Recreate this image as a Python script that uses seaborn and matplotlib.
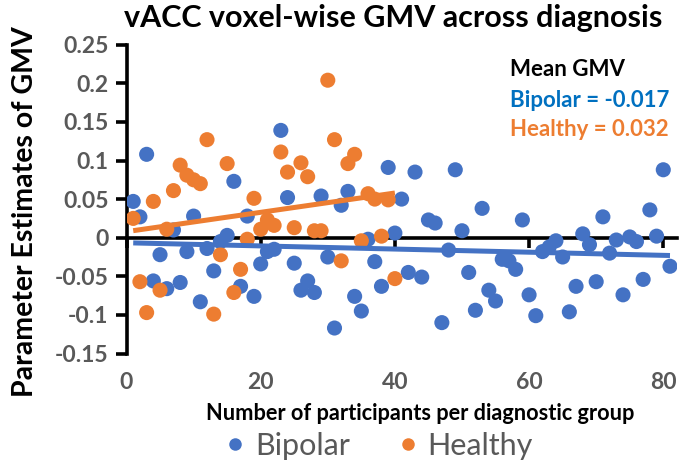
import matplotlib
matplotlib.use("Agg")
import matplotlib.pyplot as plt
from matplotlib.lines import Line2D
from matplotlib.ticker import FixedLocator, FuncFormatter
import pandas as pd
import seaborn as sns

# Voxel-wise GMV parameter estimates, one value per participant (in order)
bipolar_gmv = [
    0.047, 0.027, 0.108, -0.056, -0.022, -0.066, 0.010, -0.058, -0.018, 0.028,
    -0.083, -0.014, -0.043, -0.005, 0.003, 0.073, -0.063, 0.028, -0.076, -0.034,
    -0.018, -0.015, 0.139, 0.052, -0.033, -0.068, -0.056, -0.071, 0.054, -0.025,
    -0.117, 0.042, 0.060, -0.076, -0.095, -0.002, -0.031, -0.063, 0.091, 0.006,
    0.050, -0.045, 0.085, -0.051, 0.023, 0.019, -0.110, -0.016, 0.088, 0.009,
    -0.045, -0.094, 0.038, -0.068, -0.082, -0.028, -0.030, -0.041, 0.023, -0.074,
    -0.101, -0.018, -0.012, -0.004, -0.025, -0.096, -0.063, 0.005, -0.009, -0.057,
    0.027, -0.020, -0.003, -0.074, 0.001, -0.005, -0.054, 0.036, 0.002, 0.088,
    -0.037,
]
healthy_gmv = [
    0.025, -0.057, -0.097, 0.047, -0.068, 0.011, 0.061, 0.094, 0.081, 0.075,
    0.070, 0.127, -0.099, -0.022, 0.096, -0.071, -0.041, -0.002, 0.051, 0.011,
    0.023, 0.016, 0.111, 0.085, 0.013, 0.097, 0.079, 0.009, 0.009, 0.204,
    0.127, -0.030, 0.096, 0.108, -0.004, 0.057, 0.050, 0.002, 0.049, -0.053,
]
bipolar_n = list(range(1, len(bipolar_gmv) + 1))
healthy_n = list(range(1, len(healthy_gmv) + 1))

groups = ["Bipolar", "Healthy"]
group_colors = {"Bipolar": "#4472C4", "Healthy": "#ED7D31"}
mean_labels = ["Mean GMV", "Bipolar = -0.017", "Healthy = 0.032"]
mean_colors = ["#000000", "#0070C0", "#ED7D31"]

x_ticks = [0, 20, 40, 60, 80]
y_ticks = [-0.15, -0.1, -0.05, 0, 0.05, 0.1, 0.15, 0.2, 0.25]

title = "vACC voxel-wise GMV across diagnosis"
x_label = "Number of participants per diagnostic group"
y_label = "Parameter Estimates of GMV"

df = pd.concat([
    pd.DataFrame({"n": bipolar_n, "gmv": bipolar_gmv, "group": "Bipolar"}),
    pd.DataFrame({"n": healthy_n, "gmv": healthy_gmv, "group": "Healthy"}),
], ignore_index=True)

sns.set_theme(style="white")
plt.rcParams["font.family"] = ["Lato", "DejaVu Sans"]

W, H = 683, 467
fig = plt.figure(figsize=(W / 100, H / 100), dpi=100)
ax = fig.add_axes([126.5 / W, 1 - 353.5 / H, (676.7 - 126.5) / W, (353.5 - 44.7) / H])

sns.scatterplot(data=df, x="n", y="gmv", hue="group", hue_order=groups,
                palette=group_colors, s=118, edgecolor="none", linewidth=0,
                alpha=1, legend=False, ax=ax, zorder=3)
for g in groups:
    sub = df[df["group"] == g]
    sns.regplot(data=sub, x="n", y="gmv", scatter=False, ci=None, truncate=True,
                color=group_colors[g], line_kws={"lw": 3.6, "zorder": 4,
                                                 "solid_capstyle": "butt"}, ax=ax)

ax.set_xlim(0, 82)
ax.set_ylim(-0.15, 0.25)
ax.set_xlabel("")
ax.set_ylabel("")

# axes: left spine plus a horizontal axis line through zero
for side in ["top", "right"]:
    ax.spines[side].set_visible(False)
ax.spines["left"].set_linewidth(2.6)
ax.spines["left"].set_color("black")
ax.spines["bottom"].set_position(("data", 0))
ax.spines["bottom"].set_linewidth(2.6)
ax.spines["bottom"].set_color("black")
ax.spines["bottom"].set_zorder(2)

ax.yaxis.set_major_locator(FixedLocator(y_ticks))
ax.yaxis.set_major_formatter(FuncFormatter(lambda v, p: f"{round(v, 2):g}"))
ax.tick_params(axis="y", direction="out", length=8, width=2.6, color="black",
               labelsize=16.5, labelcolor="#595959", pad=5, left=True)
for lab in ax.get_yticklabels():
    lab.set_fontweight("bold")

ax.xaxis.set_major_locator(FixedLocator(x_ticks))
ax.tick_params(axis="x", direction="out", length=7, width=2.6, color="black",
               labelbottom=False, bottom=True)

sec = ax.secondary_xaxis("bottom")
sec.xaxis.set_major_locator(FixedLocator(x_ticks))
sec.spines["bottom"].set_visible(False)
sec.tick_params(axis="x", length=0, labelsize=16.5, labelcolor="#595959", pad=13)
for lab in sec.get_xticklabels():
    lab.set_fontweight("bold")

fig.text(393 / W, 1 - 27 / H, title, ha="center", va="baseline",
         fontsize=22, fontweight="bold", color="black")
fig.text(420 / W, 1 - 413 / H, x_label, ha="center", va="center",
         fontsize=15.7, fontweight="bold", color="black")
fig.text(25 / W, 1 - 212 / H, y_label, ha="center", va="center", rotation=90,
         fontsize=20.5, fontweight="bold", color="black")

for i, (txt, col) in enumerate(zip(mean_labels, mean_colors)):
    fig.text(510 / W, 1 - (70 + 30 * i) / H, txt, ha="left", va="center",
             fontsize=16, fontweight="bold", color=col)

handles = [Line2D([], [], ls="none", marker="o", markersize=9,
                  markerfacecolor=group_colors[g], markeredgewidth=0) for g in groups]
fig.legend(handles, groups, loc="center", bbox_to_anchor=(378 / W, 1 - 446 / H),
           ncol=2, frameon=False, fontsize=22, labelcolor="#595959",
           handletextpad=0.25, columnspacing=1.5, handlelength=0.8,
           borderpad=0, borderaxespad=0)

fig.savefig("out.png", dpi=100)
